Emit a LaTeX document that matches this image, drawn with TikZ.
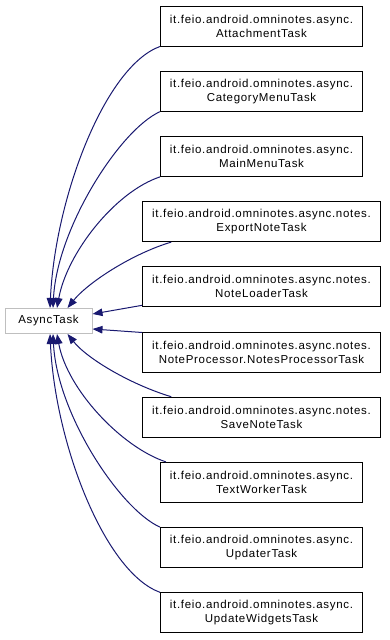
\documentclass[tikz,border=0pt]{standalone}
\usepackage{fontspec}
\setmainfont{Liberation Sans}[LetterSpace=6]
\usetikzlibrary{arrows.meta}

\definecolor{midnightblue}{RGB}{25,25,112}
\definecolor{basegray}{RGB}{191,191,191}

\tikzset{
    classbox/.style = {draw=black, fill=white, line width=1pt, minimum height=40pt,
        inner xsep=9.5pt, align=center, font=\fontsize{11.5}{14}\selectfont},
    basebox/.style = {draw=basegray, fill=white, line width=1pt, minimum width=87pt,
        minimum height=25pt, font=\fontsize{11.5}{14}\selectfont},
    inherit/.style = {draw=midnightblue, line width=1pt,
        -{Triangle[length=10pt,width=7.5pt,fill=midnightblue]}}
}

\begin{document}
\begin{tikzpicture}[x=1pt, y=-1pt]
    \useasboundingbox (0,0) rectangle (389,640);

    \node[basebox] (async) at (48.5,321) {AsyncTask};

    % one row per subclass, 65.2 apart
    \foreach \i/\pkg/\cls in {1/async/AttachmentTask, 2/async/CategoryMenuTask,
        3/async/MainMenuTask, 4/async.notes/ExportNoteTask,
        5/async.notes/NoteLoaderTask, 6/async.notes/NoteProcessor.NotesProcessorTask,
        7/async.notes/SaveNoteTask, 8/async/TextWorkerTask,
        9/async/UpdaterTask, 10/async/UpdateWidgetsTask}
        \node[classbox] (t\i) at (261.5, {26+65.2*(\i-1)}) {it.feio.android.omninotes.\pkg.\\\cls};

    % upper half comes in at the top
    \draw[inherit] (t1.south west) .. controls +(-55,20) and +(5,-110) .. ([xshift=1.5pt]async.north);
    \draw[inherit] (t2.south west) .. controls +(-40,18) and +(4,-80) .. ([xshift=4.5pt]async.north);
    \draw[inherit] (t3.south west) .. controls +(-45,15) and +(10,-55) .. ([xshift=8.5pt]async.north);
    \draw[inherit] ([xshift=29pt]t4.south west) .. controls +(-40,12) and +(20,-25) .. ([xshift=19pt]async.north);
    % two straight ones on the right side
    \draw[inherit] ([yshift=2pt]t5.south west) -- ([yshift=7pt]async.east);
    \draw[inherit] ([yshift=-1pt]t6.north west) -- ([yshift=-8pt]async.east);
    % lower half comes in at the bottom
    \draw[inherit] ([xshift=29pt]t7.north west) .. controls +(-40,-12) and +(20,25) .. ([xshift=19pt]async.south);
    \draw[inherit] ([xshift=6pt]t8.north west) .. controls +(-45,-15) and +(10,55) .. ([xshift=8.5pt]async.south);
    \draw[inherit] (t9.north west) .. controls +(-40,-18) and +(4,80) .. ([xshift=4.5pt]async.south);
    \draw[inherit] (t10.north west) .. controls +(-55,-20) and +(5,110) .. ([xshift=1.5pt]async.south);
\end{tikzpicture}
\end{document}
